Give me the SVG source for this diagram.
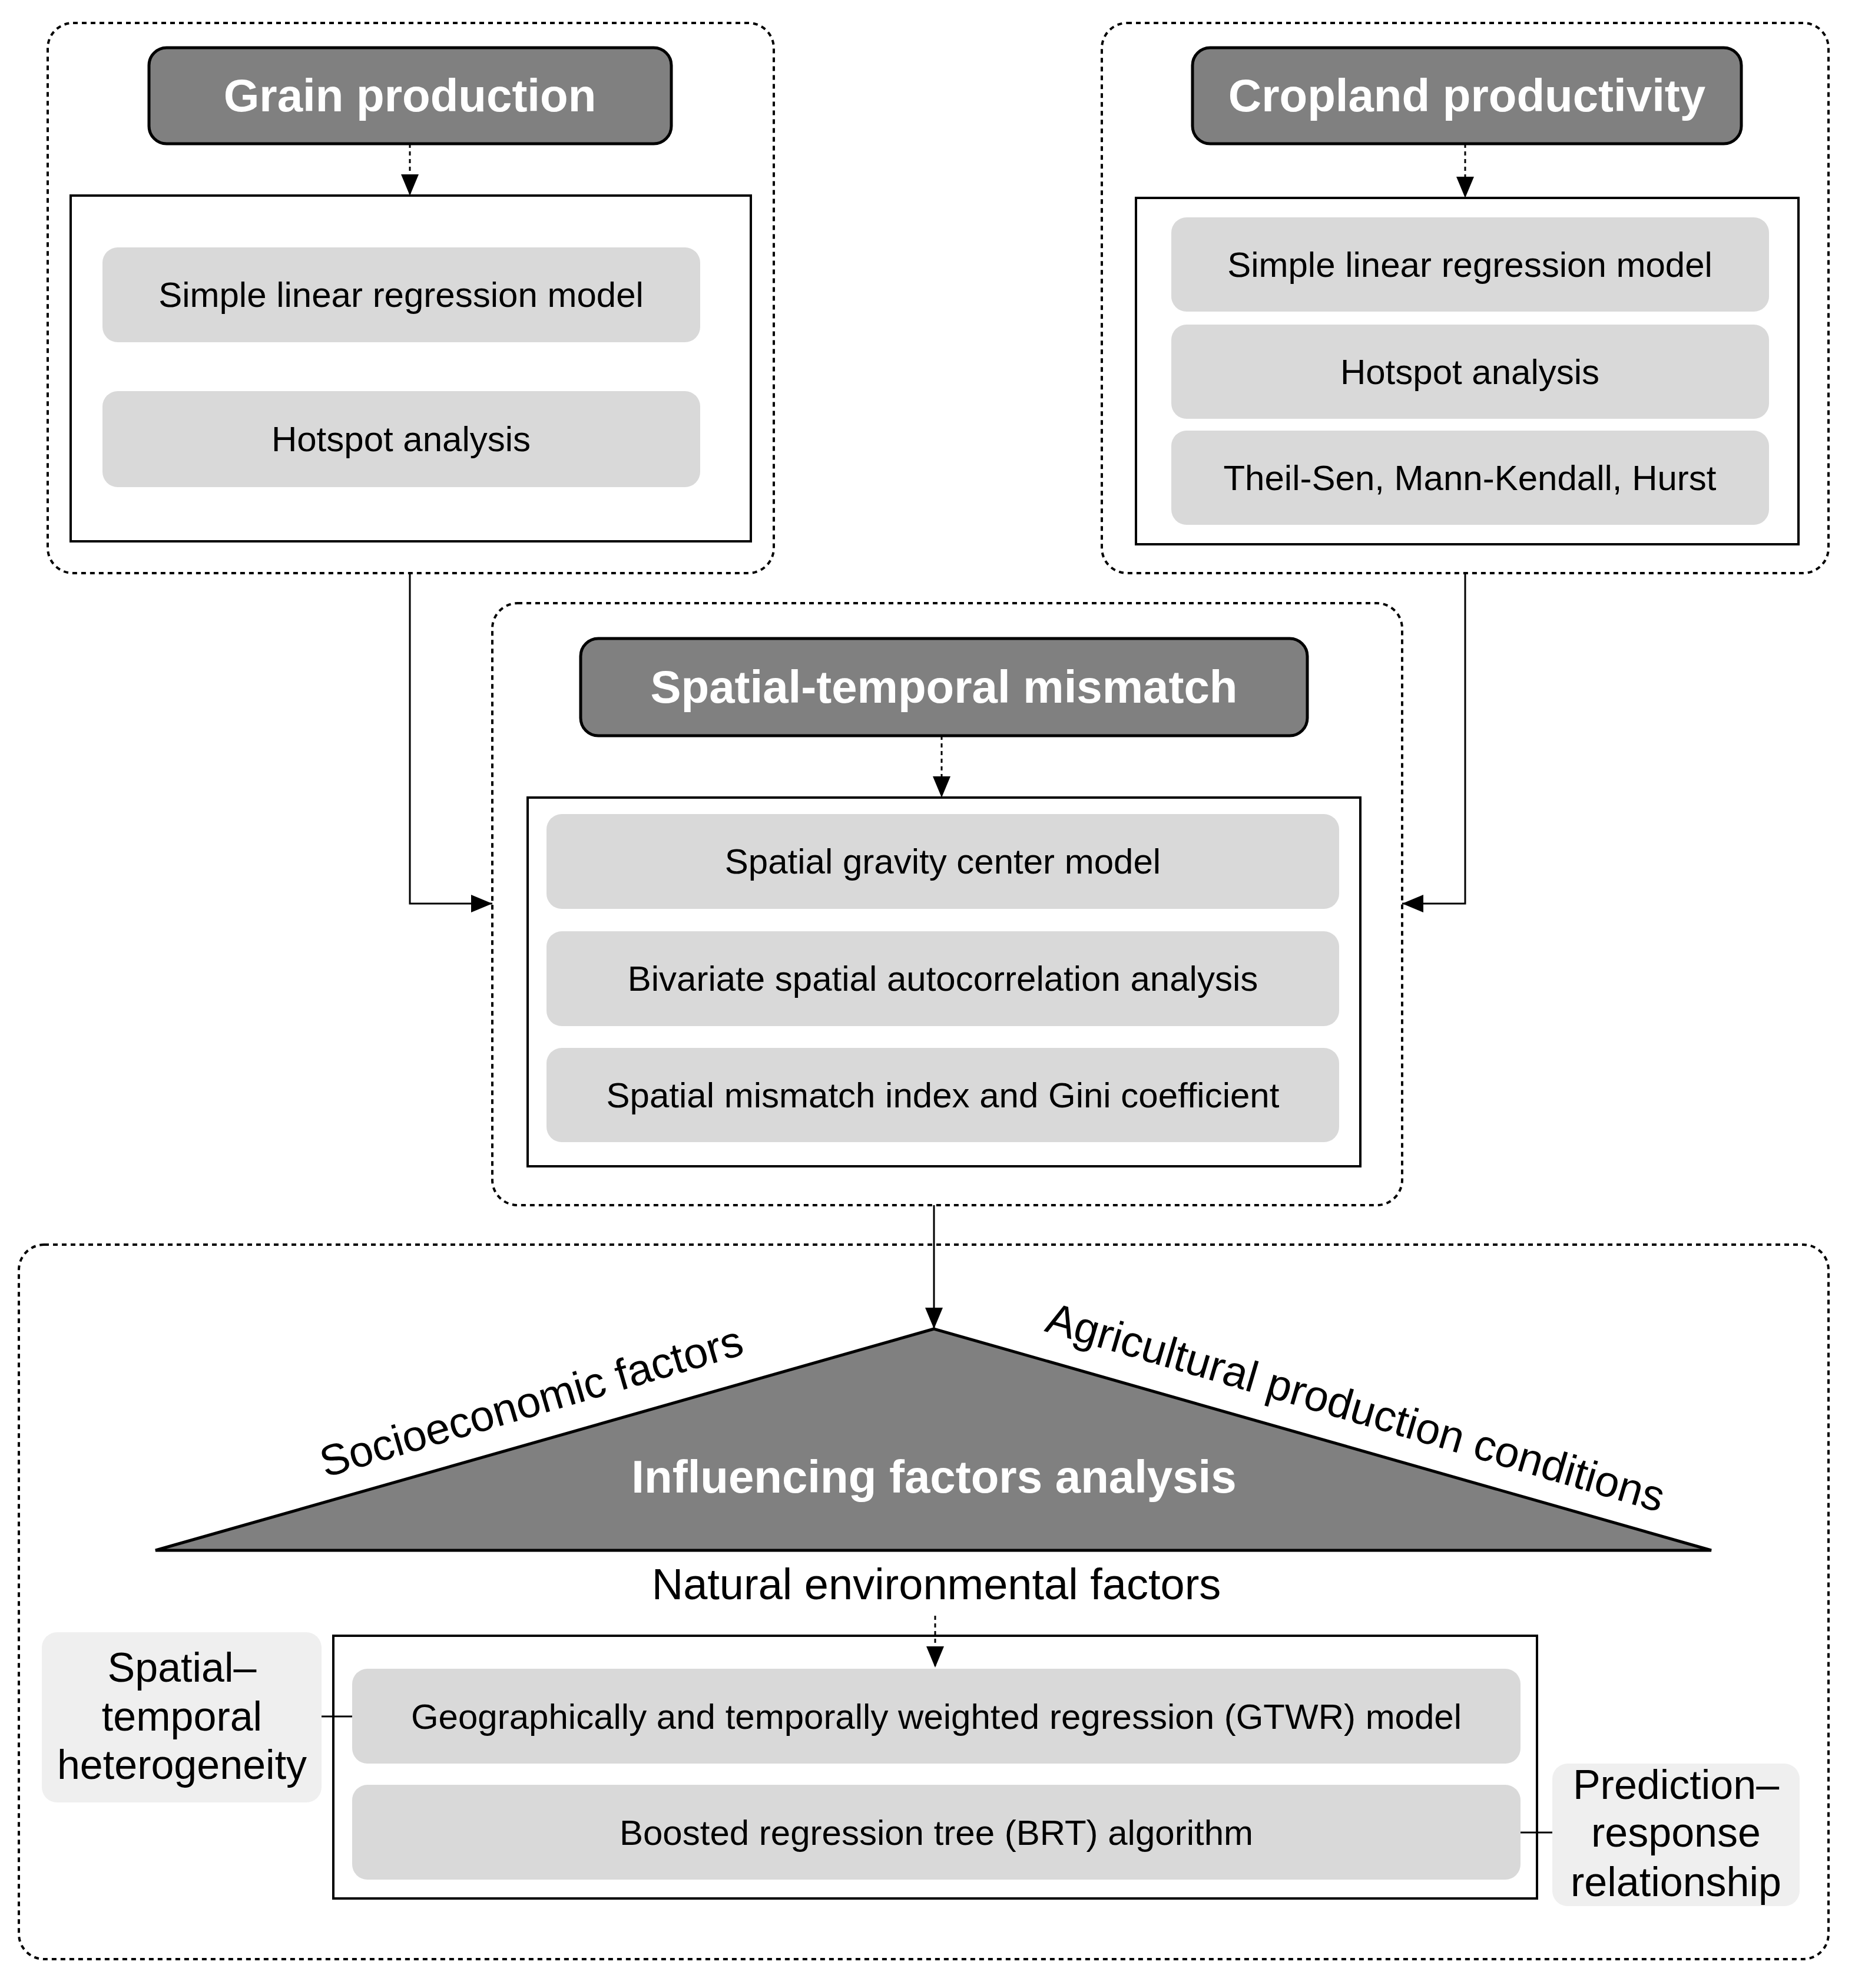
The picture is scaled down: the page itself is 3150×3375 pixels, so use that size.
<svg xmlns="http://www.w3.org/2000/svg" width="3150" height="3375" viewBox="0 0 3150 3375">
<style>
.dash{fill:none;stroke:#000;stroke-width:4;stroke-dasharray:8,7}
.hdr{fill:#808080;stroke:#000;stroke-width:5}
.ht{fill:#fff;font-family:"Liberation Sans",Arial,sans-serif;font-weight:bold;font-size:78px;text-anchor:middle;dominant-baseline:central}
.inner{fill:#fff;stroke:#000;stroke-width:4}
.lb{fill:#d9d9d9}
.lt{fill:#000;font-family:"Liberation Sans",Arial,sans-serif;font-size:60px;text-anchor:middle;dominant-baseline:central}
.bt{fill:#000;font-family:"Liberation Sans",Arial,sans-serif;font-size:74px;text-anchor:middle;dominant-baseline:central}
.side{fill:#efefef}
.st{fill:#000;font-family:"Liberation Sans",Arial,sans-serif;font-size:70px;text-anchor:middle;dominant-baseline:central}
.c{fill:none;stroke:#000;stroke-width:3}
.cd{fill:none;stroke:#000;stroke-width:3;stroke-dasharray:7,6}
</style>
<defs><marker id="ah" markerWidth="10" markerHeight="10" refX="9" refY="5" orient="auto" markerUnits="userSpaceOnUse" viewBox="0 0 10 10"><path d="M0,0L10,5L0,10z" fill="#000"/></marker>
<marker id="a" markerWidth="36" markerHeight="30" refX="36" refY="15" orient="auto" markerUnits="userSpaceOnUse"><path d="M0,0L36,15L0,30z" fill="#000"/></marker></defs>
<g id="grain">
<rect class="dash" x="81" y="39" width="1233" height="934" rx="43"/>
<rect class="hdr" x="253" y="81" width="887" height="163" rx="30"/>
<text class="ht" x="696" y="162">Grain production</text>
<rect class="inner" x="120" y="332" width="1155" height="587"/>
<rect class="lb" x="174" y="420" width="1015" height="161" rx="26"/>
<text class="lt" x="681" y="500">Simple linear regression model</text>
<rect class="lb" x="174" y="664" width="1015" height="163" rx="26"/>
<text class="lt" x="681" y="745">Hotspot analysis</text>
</g>
<g id="cropland">
<rect class="dash" x="1871" y="39" width="1234" height="934" rx="43"/>
<rect class="hdr" x="2025" y="81" width="932" height="163" rx="30"/>
<text class="ht" x="2491" y="162">Cropland productivity</text>
<rect class="inner" x="1929" y="336" width="1125" height="588"/>
<rect class="lb" x="1989" y="369" width="1015" height="160" rx="26"/>
<text class="lt" x="2496" y="449">Simple linear regression model</text>
<rect class="lb" x="1989" y="551" width="1015" height="160" rx="26"/>
<text class="lt" x="2496" y="631">Hotspot analysis</text>
<rect class="lb" x="1989" y="731" width="1015" height="160" rx="26"/>
<text class="lt" x="2496" y="811">Theil-Sen, Mann-Kendall, Hurst</text>
</g>
<g id="mismatch">
<rect class="dash" x="836" y="1024" width="1545" height="1022" rx="43"/>
<rect class="hdr" x="986" y="1084" width="1234" height="165" rx="30"/>
<text class="ht" x="1603" y="1166">Spatial-temporal mismatch</text>
<rect class="inner" x="896" y="1354" width="1414" height="626"/>
<rect class="lb" x="928" y="1382" width="1346" height="161" rx="26"/>
<text class="lt" x="1601" y="1462">Spatial gravity center model</text>
<rect class="lb" x="928" y="1581" width="1346" height="161" rx="26"/>
<text class="lt" x="1601" y="1661">Bivariate spatial autocorrelation analysis</text>
<rect class="lb" x="928" y="1779" width="1346" height="160" rx="26"/>
<text class="lt" x="1601" y="1859">Spatial mismatch index and Gini coefficient</text>
</g>
<g id="influencing">
<rect class="dash" x="32" y="2113" width="3073" height="1213" rx="43"/>
<polygon points="1586,2256 264,2632 2906,2632" fill="#808080" stroke="#000" stroke-width="5"/>
<text class="ht" x="1586" y="2507">Influencing factors analysis</text>
<text class="bt" transform="translate(902,2379) rotate(-16.4)" x="0" y="0">Socioeconomic factors</text>
<text class="bt" transform="translate(2302,2389) rotate(16.4)" x="0" y="0">Agricultural production conditions</text>
<text class="bt" x="1590" y="2689">Natural environmental factors</text>
<rect class="inner" x="566" y="2777" width="2044" height="446"/>
<rect class="lb" x="598" y="2833" width="1984" height="161" rx="26"/>
<text class="lt" x="1590" y="2914">Geographically and temporally weighted regression (GTWR) model</text>
<rect class="lb" x="598" y="3030" width="1984" height="161" rx="26"/>
<text class="lt" x="1590" y="3111">Boosted regression tree (BRT) algorithm</text>
</g>
<g id="heterogeneity">
<rect class="side" x="71" y="2771" width="475" height="289" rx="26"/>
<text class="st" x="309" y="2831">Spatial–</text>
<text class="st" x="309" y="2914">temporal</text>
<text class="st" x="309" y="2996">heterogeneity</text>
</g>
<g id="prediction">
<rect class="side" x="2636" y="2994" width="420" height="242" rx="26"/>
<text class="st" x="2846" y="3030">Prediction–</text>
<text class="st" x="2846" y="3111">response</text>
<text class="st" x="2846" y="3195">relationship</text>
</g>
<g id="connectors">
<path class="cd" d="M696,244V332" marker-end="url(#a)"/>
<path class="cd" d="M2488,244V336" marker-end="url(#a)"/>
<path class="cd" d="M1599,1249V1354" marker-end="url(#a)"/>
<path class="cd" d="M1588,2743V2831" marker-end="url(#a)"/>
<path class="c" d="M696,973V1534H836" marker-end="url(#a)"/>
<path class="c" d="M2488,973V1534H2381" marker-end="url(#a)"/>
<path class="c" d="M1586,2046V2256" marker-end="url(#a)"/>
<path class="c" d="M546,2914H598"/>
<path class="c" d="M2582,3111H2636"/>
</g>
</svg>
